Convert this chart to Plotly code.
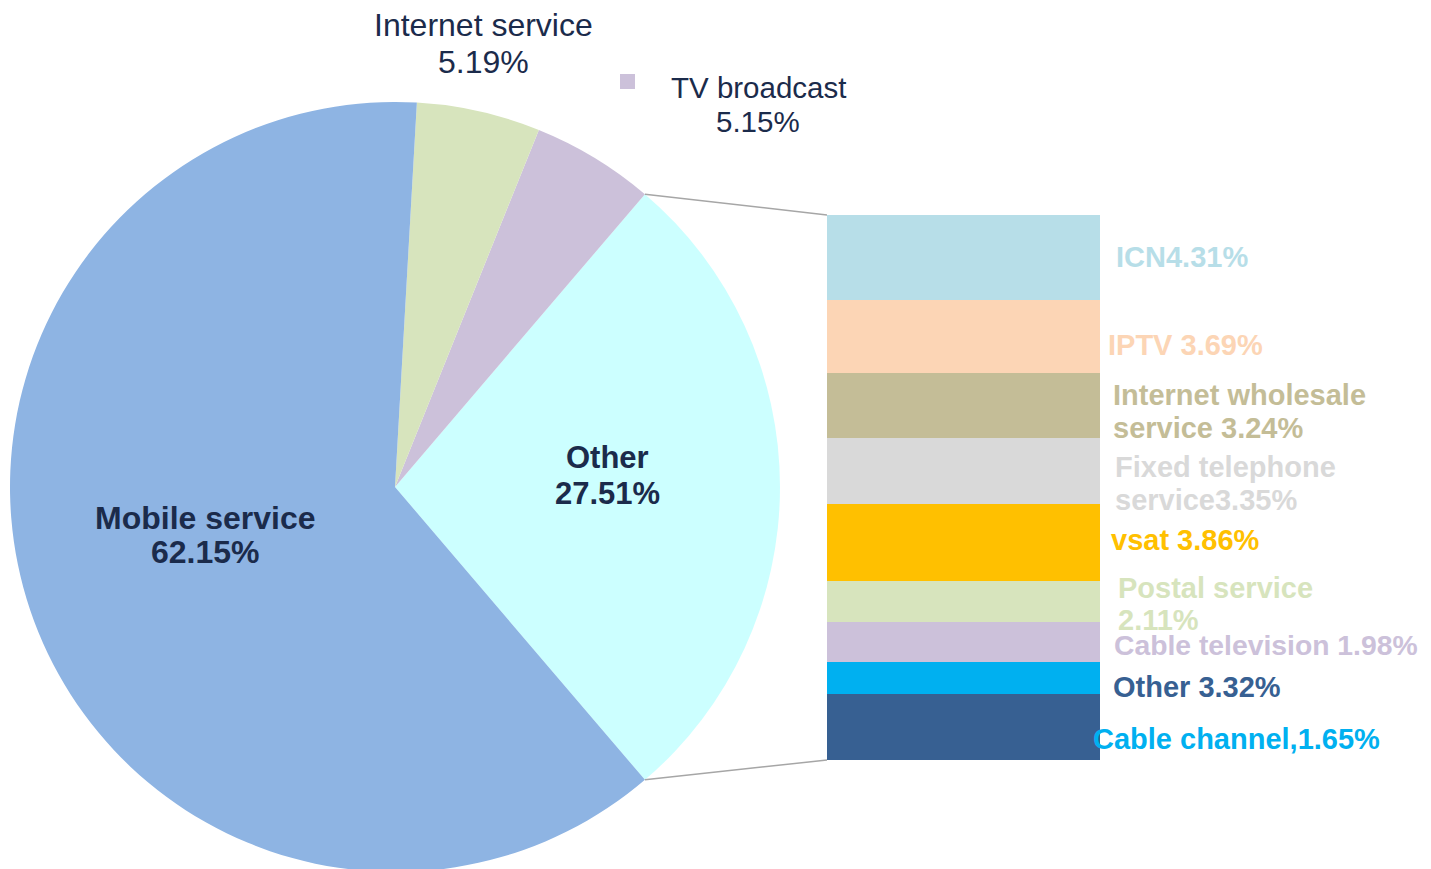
import math
import plotly.graph_objects as go

# ---------------- data ----------------
pie_labels = ["Other", "TV broadcast", "Internet service", "Mobile service"]
pie_values = [27.51, 5.15, 5.19, 62.15]
pie_colors = ["#CCFFFF", "#CCC1DA", "#D7E4BD", "#8EB4E3"]

# stacked bar segments, bottom -> top
bar_labels = ["Other", "Cable channel", "Cable television", "Postal service", "vsat",
              "Fixed telephone service", "Internet wholesale service", "IPTV", "ICN"]
bar_values = [3.32, 1.65, 1.98, 2.11, 3.86, 3.35, 3.24, 3.69, 4.31]
bar_colors = ["#376092", "#00B0F0", "#CCC1DA", "#D7E4BD", "#FFC000",
              "#D9D9D9", "#C4BD97", "#FCD5B5", "#B7DEE8"]

# data-label texts (as printed in the chart), top -> bottom
bar_text_lines = [
    ["ICN4.31%"],
    ["IPTV 3.69%"],
    ["Internet wholesale", "service 3.24%"],
    ["Fixed telephone", "service3.35%"],
    ["vsat 3.86%"],
    ["Postal service", "2.11%"],
    ["Cable television 1.98%"],
    ["Other 3.32%"],
    ["Cable channel,1.65%"],
]
bar_text_colors = ["#B7DEE8", "#FCD5B5", "#C4BD97", "#D9D9D9", "#FFC000",
                   "#D7E4BD", "#CCC1DA", "#376092", "#00B0F0"]

# ---------------- layout helpers ----------------
W, H = 1431, 869
OFF = 8  # page body margin
FONT = "Liberation Sans, Arial, sans-serif"
NAVY = "#1B2B4B"


def px(x):
    return (x - OFF) / W


def py(y):
    return 1 - (y - OFF) / H


# pie domain (screen pixels)
pie_x0, pie_x1 = 10, 780
pie_y0, pie_y1 = 102, 872
# bar domain (screen pixels)
bar_x0, bar_x1 = 827, 1100
bar_top, bar_bot = 215, 760

other_share = pie_values[0] / sum(pie_values)
rotation = 90 - other_share * 360 / 2

fig = go.Figure()
fig.add_trace(go.Pie(
    labels=pie_labels, values=pie_values, sort=False,
    direction="counterclockwise", rotation=rotation,
    marker=dict(colors=pie_colors, line=dict(width=0)),
    textinfo="none", hoverinfo="label+percent", showlegend=False,
    domain=dict(x=[px(pie_x0), px(pie_x1)], y=[py(pie_y1), py(pie_y0)]),
))

for lab, val, col in zip(bar_labels, bar_values, bar_colors):
    fig.add_trace(go.Bar(
        x=[0], y=[val], name=lab, marker=dict(color=col, line=dict(width=0)),
        showlegend=False, hoverinfo="name+y",
    ))

total = sum(bar_values)
fig.update_layout(
    width=W, height=H, margin=dict(l=0, r=0, t=0, b=0),
    paper_bgcolor="white", plot_bgcolor="white",
    barmode="stack", bargap=0,
    xaxis=dict(domain=[px(bar_x0), px(bar_x1)], range=[-0.5, 0.5], visible=False, fixedrange=True),
    yaxis=dict(domain=[py(bar_bot), py(bar_top)], range=[0, total], visible=False, fixedrange=True),
    font=dict(family=FONT),
)

# connector lines from pie "Other" slice edges to the bar corners
r = min(pie_x1 - pie_x0, pie_y1 - pie_y0) / 2
cx, cy = (pie_x0 + pie_x1) / 2, (pie_y0 + pie_y1) / 2
half = math.radians(other_share * 360 / 2)
p_up = (cx + r * math.cos(half), cy - r * math.sin(half))
p_dn = (cx + r * math.cos(half), cy + r * math.sin(half))
for (sx, sy), ey in [(p_up, bar_top), (p_dn, bar_bot)]:
    fig.add_shape(type="line", xref="paper", yref="paper",
                  x0=px(sx), y0=py(sy), x1=px(bar_x0), y1=py(ey),
                  line=dict(color="#A6A6A6", width=1.5))

# pie labels: x center, line centers, bold, size
pie_label_pos = {
    "Mobile service": (205, [518, 552], True, 32),
    "Other": (607, [457, 493], True, 31),
    "Internet service": (483, [25, 62], False, 32),
    "TV broadcast": (758, [88, 121], False, 29.5),
}
for lab, val in zip(pie_labels, pie_values):
    xc, ys, bold, size = pie_label_pos[lab]
    lines = [lab, f"{val:.2f}%"]
    for t, yc in zip(lines, ys):
        fig.add_annotation(
            xref="paper", yref="paper", x=px(xc), y=py(yc),
            text=f"<b>{t}</b>" if bold else t, showarrow=False,
            xanchor="center", yanchor="middle",
            font=dict(family=FONT, size=size, color=NAVY),
        )

# small legend-key square near TV broadcast label
fig.add_shape(type="rect", xref="paper", yref="paper",
              x0=px(620), x1=px(635), y0=py(89), y1=py(74),
              fillcolor=pie_colors[1], line=dict(width=0))

# bar labels positions: (left x, [line center ys], font size)
bar_label_pos = [
    (1114, [257], 29),
    (1106, [345], 29),
    (1111, [395, 428], 29),
    (1113, [467, 500], 29),
    (1109, [540], 29),
    (1116, [588, 620], 29),
    (1112, [645], 28.3),
    (1111, [687], 29),
    (1091, [739], 29),
]
for lines, col, (xl, ys, fs) in zip(bar_text_lines, bar_text_colors, bar_label_pos):
    for t, yc in zip(lines, ys):
        fig.add_annotation(
            xref="paper", yref="paper", x=px(xl), y=py(yc),
            text=f"<b>{t}</b>", showarrow=False,
            xanchor="left", yanchor="middle",
            font=dict(family=FONT, size=fs, color=col),
        )

fig.write_html(
    "out.html",
    config={"displayModeBar": False},
    post_script="document.documentElement.style.overflow='hidden';document.body.style.overflow='hidden';",
)
